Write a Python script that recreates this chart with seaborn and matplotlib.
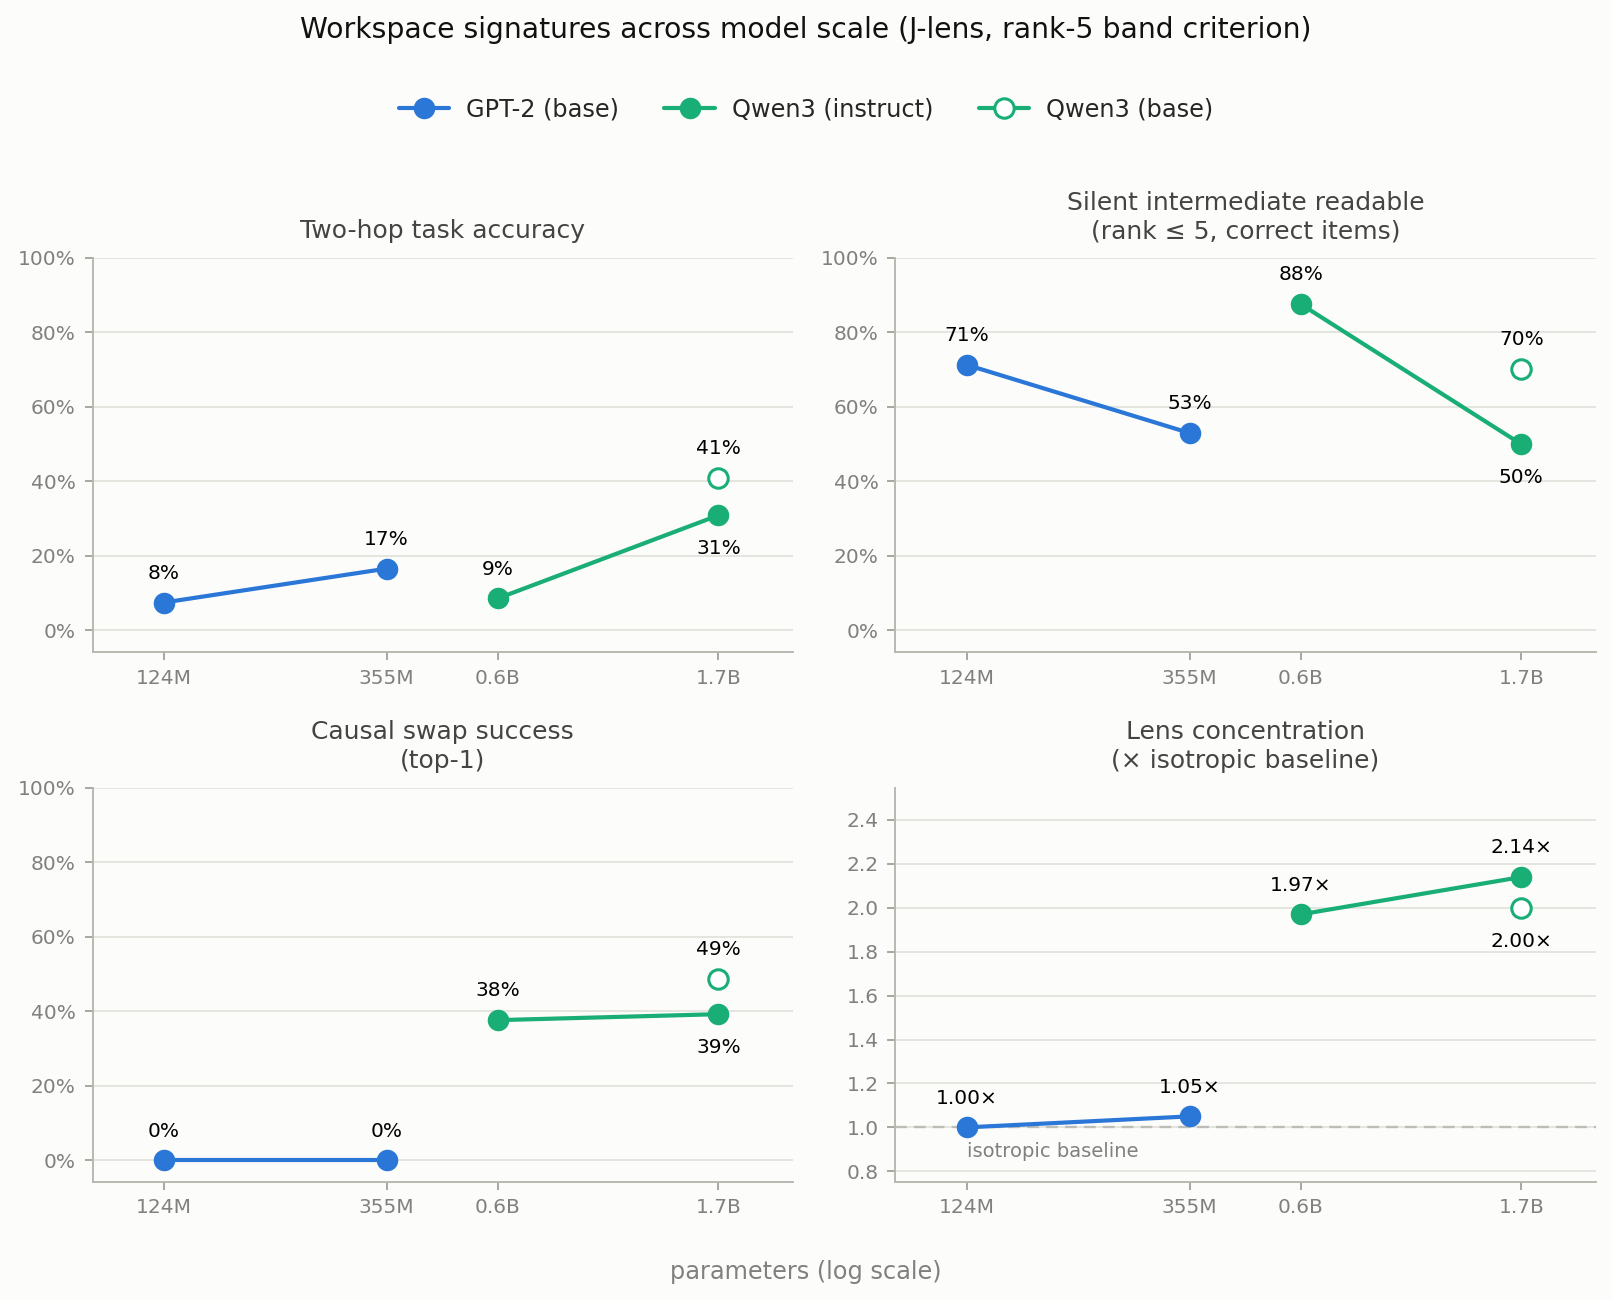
import matplotlib
matplotlib.use("Agg")
import matplotlib.pyplot as plt
import matplotlib.ticker as mticker
from matplotlib.lines import Line2D
import seaborn as sns
import pandas as pd
import numpy as np

# ---------------- data ----------------
gpt2_params = [124e6, 355e6]
qwen_params = [0.6e9, 1.7e9]
qwen_base_param = [1.7e9]

tick_positions = [124e6, 355e6, 0.6e9, 1.7e9]
tick_labels = ["124M", "355M", "0.6B", "1.7B"]

panel_titles = [
    "Two-hop task accuracy",
    "Silent intermediate readable\n(rank \u2264 5, correct items)",
    "Causal swap success\n(top-1)",
    "Lens concentration\n(\u00d7 isotropic baseline)",
]

gpt2_accuracy = [0.075, 0.166]
qwen_inst_accuracy = [0.086, 0.309]
qwen_base_accuracy = [0.409]

gpt2_readable = [0.713, 0.530]
qwen_inst_readable = [0.876, 0.500]
qwen_base_readable = [0.702]

gpt2_swap = [0.0, 0.0]
qwen_inst_swap = [0.376, 0.392]
qwen_base_swap = [0.486]

gpt2_conc = [1.00, 1.05]
qwen_inst_conc = [1.97, 2.14]
qwen_base_conc = [2.00]

series_names = ["GPT-2 (base)", "Qwen3 (instruct)", "Qwen3 (base)"]

# ---------------- style ----------------
BG = "#fcfcfa"
BLUE = "#2a77d8"
GREEN = "#1aae77"
GRID = "#e1e1db"
SPINE = "#b9b9b1"
TICKC = "#808080"

sns.set_theme(style="white")
plt.rcParams["font.family"] = ["DejaVu Sans"]

fig, axes = plt.subplots(2, 2, figsize=(16.12, 13), dpi=100)
fig.patch.set_facecolor(BG)
fig.subplots_adjust(left=0.0574, right=0.9898, top=0.8016, bottom=0.0909,
                    wspace=0.147, hspace=0.344)

panels = [
    (gpt2_accuracy, qwen_inst_accuracy, qwen_base_accuracy, "pct", [False, True], False),
    (gpt2_readable, qwen_inst_readable, qwen_base_readable, "pct", [False, True], False),
    (gpt2_swap, qwen_inst_swap, qwen_base_swap, "pct", [False, True], False),
    (gpt2_conc, qwen_inst_conc, qwen_base_conc, "x", [False, False], True),
]

MS = 15.5
LW = 3.0
HMS = 14.0
HEW = 2.2

def fmt(v, kind):
    return f"{v:.0%}" if kind == "pct" else f"{v:.2f}\u00d7"

for ax, title, (g, qi, qb, kind, qi_below, qb_below) in zip(axes.flat, panel_titles, panels):
    ax.set_facecolor(BG)
    ax.set_xscale("log")
    df_g = pd.DataFrame({"x": gpt2_params, "y": g})
    df_q = pd.DataFrame({"x": qwen_params, "y": qi})
    df_b = pd.DataFrame({"x": qwen_base_param, "y": qb})
    sns.lineplot(data=df_g, x="x", y="y", ax=ax, color=BLUE, linewidth=LW,
                 marker="o", markersize=MS, markeredgewidth=0, zorder=3)
    sns.lineplot(data=df_q, x="x", y="y", ax=ax, color=GREEN, linewidth=LW,
                 marker="o", markersize=MS, markeredgewidth=0, zorder=3)
    sns.lineplot(data=df_b, x="x", y="y", ax=ax, color=GREEN, linewidth=0,
                 marker="o", markersize=HMS, markerfacecolor="white",
                 markeredgecolor=GREEN, markeredgewidth=HEW, zorder=4)

    for xs, ys, below in [(gpt2_params, g, [False, False]), (qwen_params, qi, qi_below),
                          (qwen_base_param, qb, [qb_below])]:
        for xv, yv, b in zip(xs, ys, below):
            ax.annotate(fmt(yv, kind), (xv, yv), xytext=(0, -24 if b else 21),
                        textcoords="offset points", ha="center", va="center",
                        fontsize=14.5, color="black", zorder=5)

    ax.set_xlim(124e6 / 1.4, 1.7e9 * 1.42)
    ax.set_xticks(tick_positions)
    ax.set_xticklabels(tick_labels)
    ax.xaxis.set_minor_locator(mticker.NullLocator())
    if kind == "pct":
        ax.set_ylim(-0.058, 1.0)
        ax.set_yticks(np.arange(0, 1.01, 0.2))
        ax.yaxis.set_major_formatter(mticker.PercentFormatter(1.0, decimals=0))
    else:
        ax.set_ylim(0.752, 2.547)
        ax.set_yticks(np.arange(0.8, 2.41, 0.2))
        ax.yaxis.set_major_formatter(mticker.FormatStrFormatter("%.1f"))
        ax.axhline(1.0, color="#bdbdb8", linestyle=(0, (5, 3)), linewidth=1.7, zorder=1)
        ax.text(124e6, 0.935, "isotropic baseline", ha="left", va="top",
                fontsize=14, color=TICKC)

    ax.grid(axis="y", color=GRID, linewidth=1.2, zorder=0)
    ax.grid(axis="x", visible=False)
    ax.set_axisbelow(True)
    for s in ["top", "right"]:
        ax.spines[s].set_visible(False)
    for s in ["left", "bottom"]:
        ax.spines[s].set_color(SPINE)
        ax.spines[s].set_linewidth(1.4)
    ax.tick_params(axis="both", which="major", length=6, width=1.2, color="#999993",
                   labelcolor=TICKC, labelsize=14.5, left=True, bottom=True, pad=6)
    ax.set_xlabel("")
    ax.set_ylabel("")
    ax.set_title(title, fontsize=18, color="#444444", pad=14, linespacing=1.25)

fig.suptitle("Workspace signatures across model scale (J-lens, rank-5 band criterion)",
             fontsize=20.3, color="#111111", y=0.9875)
fig.supxlabel("parameters (log scale)", fontsize=17.3, color=TICKC, y=0.012)

handles = [
    Line2D([], [], color=BLUE, linewidth=LW, marker="o", markersize=MS, markeredgewidth=0),
    Line2D([], [], color=GREEN, linewidth=LW, marker="o", markersize=MS, markeredgewidth=0),
    Line2D([], [], color=GREEN, linewidth=LW, marker="o", markersize=HMS,
           markerfacecolor="white", markeredgecolor=GREEN, markeredgewidth=HEW),
]
fig.legend(handles, series_names, loc="center", bbox_to_anchor=(0.5, 0.916), ncol=3,
           frameon=False, fontsize=17.3, handlelength=2.1, columnspacing=1.9, handletextpad=0.7)

fig.savefig("out.png", dpi=100, facecolor=BG)
